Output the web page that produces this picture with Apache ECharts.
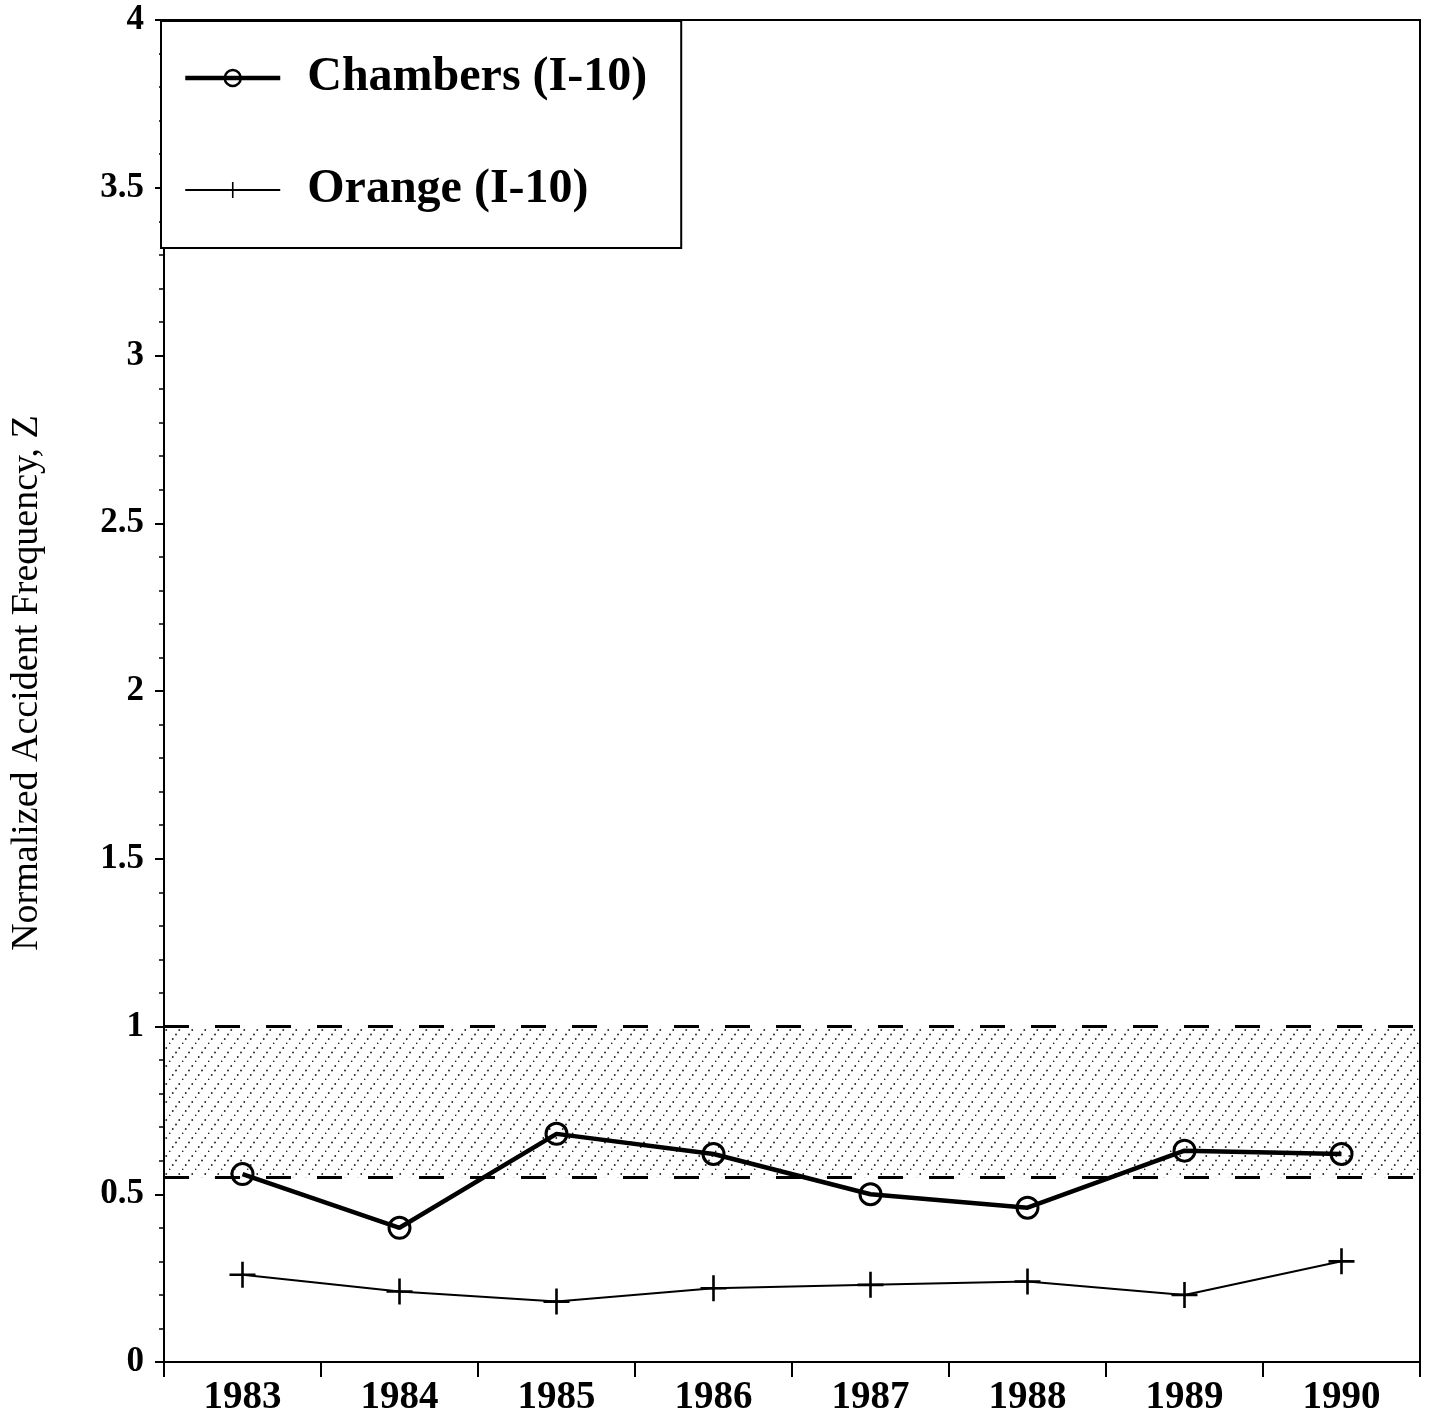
<!DOCTYPE html>
<html>
<head>
<meta charset="utf-8">
<script src="https://cdn.jsdelivr.net/npm/echarts@6/dist/echarts.min.js"></script>
<style>
  html, body { margin: 0; padding: 0; background: #fff; }
  #chart { width: 1430px; height: 1420px; }
</style>
</head>
<body>
<div id="chart"></div>
<script>
// Years on the x axis
const years = ['1983', '1984', '1985', '1986', '1987', '1988', '1989', '1990'];
// Normalized accident frequency Z per site
const chambers = [0.56, 0.40, 0.68, 0.62, 0.50, 0.46, 0.63, 0.62];
const orange = [0.26, 0.21, 0.18, 0.22, 0.23, 0.24, 0.20, 0.30];
// Shaded reference band (lower, upper)
const bandRange = [0.55, 1.0];
// Y axis scale
const yTicks = { min: 0, max: 4, step: 0.5 };

const serif = '"Liberation Serif", "Times New Roman", serif';

// Dotted diagonal hatch used to fill the band
function hatchPattern() {
  const w = 13, h = 18, n = 4;
  const c = document.createElement('canvas');
  c.width = w; c.height = h;
  const ctx = c.getContext('2d');
  ctx.fillStyle = '#222';
  for (let i = 0; i < n; i++) {
    const t = i / n;
    const x = t * w, y = h - t * h;
    ctx.beginPath();
    ctx.arc(x + 0.5, y - 0.5, 0.95, 0, Math.PI * 2);
    ctx.fill();
  }
  return c;
}

const plusPath = 'path://M0,9L20,9L20,11L0,11Z M9,0L11,0L11,20L9,20Z';

const chart = echarts.init(document.getElementById('chart'), null, { renderer: 'canvas' });

chart.setOption({
  animation: false,
  backgroundColor: '#fff',
  grid: {
    left: 164, right: 10, top: 20, bottom: 58,
    show: true, borderColor: '#000', borderWidth: 2, backgroundColor: 'transparent'
  },
  legend: {
    left: 161, top: 21,
    orient: 'vertical',
    backgroundColor: '#fff',
    borderColor: '#000', borderWidth: 2,
    padding: [33, 34, 34, 22],
    itemGap: 64,
    itemWidth: 95, itemHeight: 20,
    textStyle: { fontFamily: serif, fontWeight: 'bold', fontSize: 48, color: '#000', padding: [0, 0, 0, 22] },
    data: [
      { name: 'Chambers (I-10)', lineStyle: { width: 4.5, color: '#000' }, itemStyle: { color: 'transparent', borderColor: '#000', borderWidth: 2.5 } },
      { name: 'Orange (I-10)', lineStyle: { width: 2, color: '#000' } }
    ]
  },
  xAxis: {
    type: 'category',
    data: years,
    boundaryGap: true,
    axisLine: { lineStyle: { color: '#000', width: 2 } },
    axisTick: { show: true, interval: 0, length: 15, lineStyle: { color: '#000', width: 2 } },
    axisLabel: { fontFamily: serif, fontWeight: 'bold', fontSize: 39, color: '#000', margin: 16 },
    splitLine: { show: false }
  },
  yAxis: {
    type: 'value',
    min: yTicks.min, max: yTicks.max, interval: yTicks.step,
    name: 'Normalized Accident Frequency, Z',
    nameLocation: 'middle',
    nameGap: 118,
    nameTextStyle: { fontFamily: serif, fontSize: 38, color: '#000', padding: [0, 0, 0, 16] },
    axisLine: { show: true, lineStyle: { color: '#000', width: 2 } },
    axisTick: { show: true, length: 9, lineStyle: { color: '#000', width: 2 } },
    minorTick: { show: true, splitNumber: 5, length: 5, lineStyle: { color: '#000', width: 1.5 } },
    axisLabel: { fontFamily: serif, fontWeight: 'bold', fontSize: 35, color: '#000', margin: 20 },
    splitLine: { show: false }
  },
  series: [
    {
      name: 'Chambers (I-10)',
      type: 'line',
      data: chambers,
      symbol: 'circle',
      symbolSize: 21,
      lineStyle: { color: '#000', width: 4.5 },
      itemStyle: { color: 'transparent', borderColor: '#000', borderWidth: 3 },
      z: 5,
      markArea: {
        silent: true,
        itemStyle: { color: { image: hatchPattern(), repeat: 'repeat' } },
        data: [[{ yAxis: bandRange[0] }, { yAxis: bandRange[1] }]]
      },
      markLine: {
        silent: true,
        symbol: 'none',
        label: { show: false },
        lineStyle: { color: '#000', width: 3, type: [25, 26] },
        data: [{ yAxis: bandRange[0] }, { yAxis: bandRange[1] }]
      }
    },
    {
      name: 'Orange (I-10)',
      type: 'line',
      data: orange,
      symbol: plusPath,
      symbolSize: 26,
      lineStyle: { color: '#000', width: 2 },
      itemStyle: { color: '#000', borderWidth: 0 },
      z: 5
    }
  ]
});
</script>
</body>
</html>
